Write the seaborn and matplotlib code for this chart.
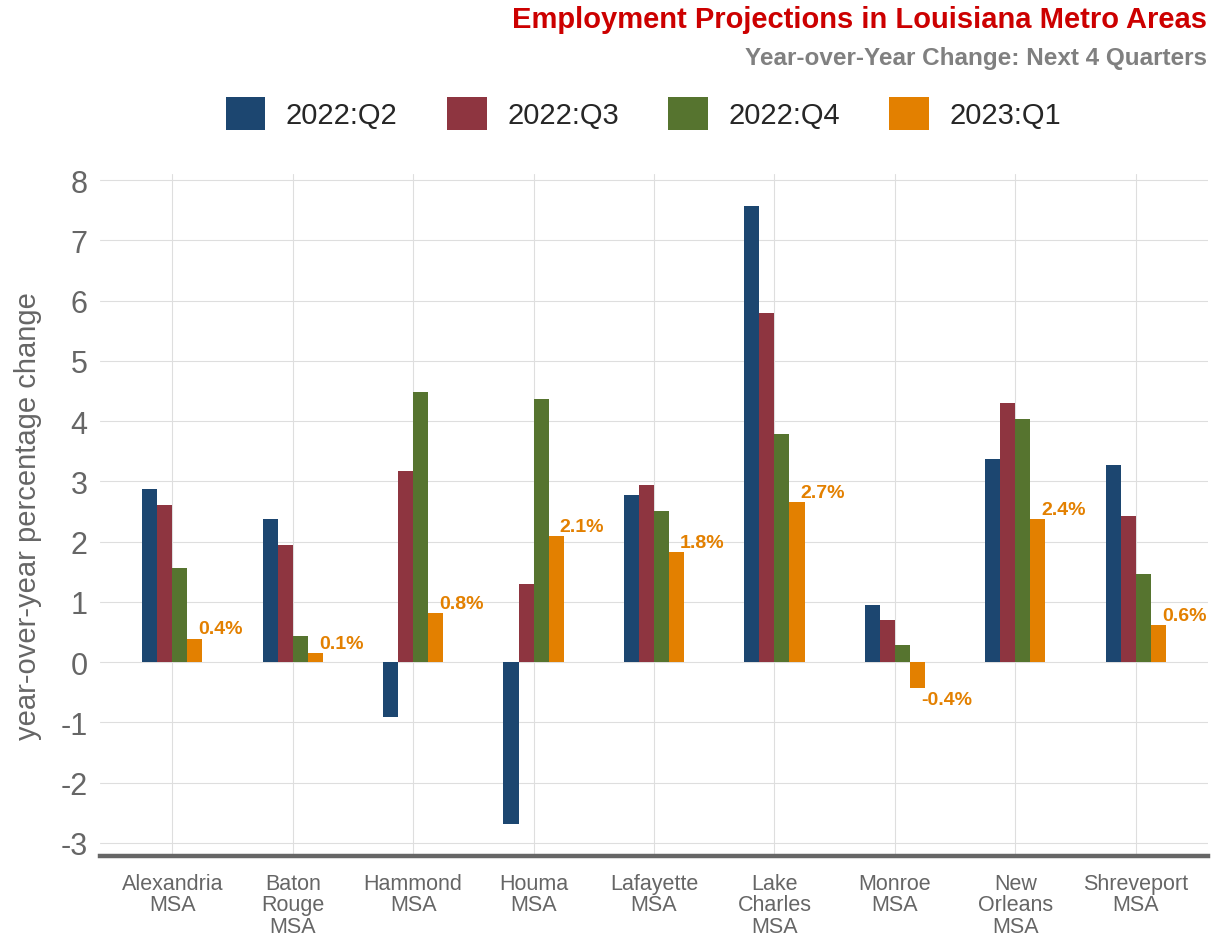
import matplotlib
matplotlib.use("Agg")
import matplotlib.pyplot as plt
import seaborn as sns
import pandas as pd
from matplotlib.patches import Patch

areas = ["Alexandria\nMSA", "Baton\nRouge\nMSA", "Hammond\nMSA", "Houma\nMSA",
         "Lafayette\nMSA", "Lake\nCharles\nMSA", "Monroe\nMSA", "New\nOrleans\nMSA",
         "Shreveport\nMSA"]
quarters = ["2022:Q2", "2022:Q3", "2022:Q4", "2023:Q1"]
q2_2022 = [2.88, 2.38, -0.91, -2.69, 2.78, 7.58, 0.94, 3.37, 3.28]
q3_2022 = [2.61, 1.94, 3.18, 1.29, 2.94, 5.80, 0.70, 4.30, 2.42]
q4_2022 = [1.56, 0.44, 4.49, 4.36, 2.50, 3.78, 0.28, 4.03, 1.47]
q1_2023 = [0.39, 0.15, 0.81, 2.09, 1.82, 2.66, -0.43, 2.38, 0.61]
colors = ["#1c4670", "#8e3540", "#56742f", "#e38000"]

series = [q2_2022, q3_2022, q4_2022, q1_2023]
rows = []
for q, vals in zip(quarters, series):
    for a, v in zip(areas, vals):
        rows.append({"area": a, "quarter": q, "value": v})
df = pd.DataFrame(rows)

sns.set_theme(style="whitegrid")
plt.rcParams['font.family'] = ['Liberation Sans', 'DejaVu Sans']

fig = plt.figure(figsize=(12.14, 9.37), dpi=100)
ax = fig.add_axes([0.0824, 0.0854, 0.9126, 0.7276])

sns.barplot(data=df, x="area", y="value", hue="quarter", order=areas,
            hue_order=quarters, palette=colors, width=0.5, gap=0,
            saturation=1, ax=ax, legend=False, linewidth=0)

# labels for 2023:Q1
bw = 0.5 / 4
for i, v in enumerate(q1_2023):
    xc = i + 1.5 * bw
    if v >= 0:
        ax.text(xc + 0.03, v + 0.02, f"{v:.1f}%", color="#e38000", fontsize=14,
                fontweight="bold", ha="left", va="bottom")
    else:
        ax.text(xc + 0.03, v - 0.05, f"{v:.1f}%", color="#e38000", fontsize=14,
                fontweight="bold", ha="left", va="top")

ax.set_xlim(-0.6, 8.6)
ax.set_ylim(-3.22, 8.1)
ax.set_yticks(range(-3, 9))
ax.set_yticklabels([str(t) for t in range(-3, 9)])
ax.tick_params(axis="y", labelsize=22, labelcolor="#666666", length=0, pad=9)
ax.tick_params(axis="x", labelsize=15.5, labelcolor="#666666", length=0, pad=12)
for lab in ax.get_xticklabels():
    lab.set_linespacing(1.05)
ax.set_xlabel("")
ax.set_ylabel("year-over-year percentage change", fontsize=21, color="#666666")
ax.yaxis.set_label_coords(-0.052, 0.5)
ax.grid(True, color="#dedede", linewidth=0.8)
ax.set_axisbelow(True)
for s in ["top", "right", "left"]:
    ax.spines[s].set_visible(False)
ax.spines["bottom"].set_color("#666666")
ax.spines["bottom"].set_linewidth(3.2)

fig.text(0.994, 0.979, "Employment Projections in Louisiana Metro Areas", ha="right",
         va="center", fontsize=21, fontweight="bold", color="#cc0000")
fig.text(0.994, 0.938, "Year-over-Year Change: Next 4 Quarters", ha="right",
         va="center", fontsize=17.5, fontweight="bold", color="#808080")

handles = [Patch(facecolor=c, edgecolor="none", label=q) for c, q in zip(colors, quarters)]
fig.legend(handles=handles, loc="center", bbox_to_anchor=(0.53, 0.878), ncol=4,
           frameon=False, fontsize=21, handlelength=1.35, handleheight=1.35,
           handletextpad=0.7, columnspacing=1.7)

fig.savefig("out.png", dpi=100)
